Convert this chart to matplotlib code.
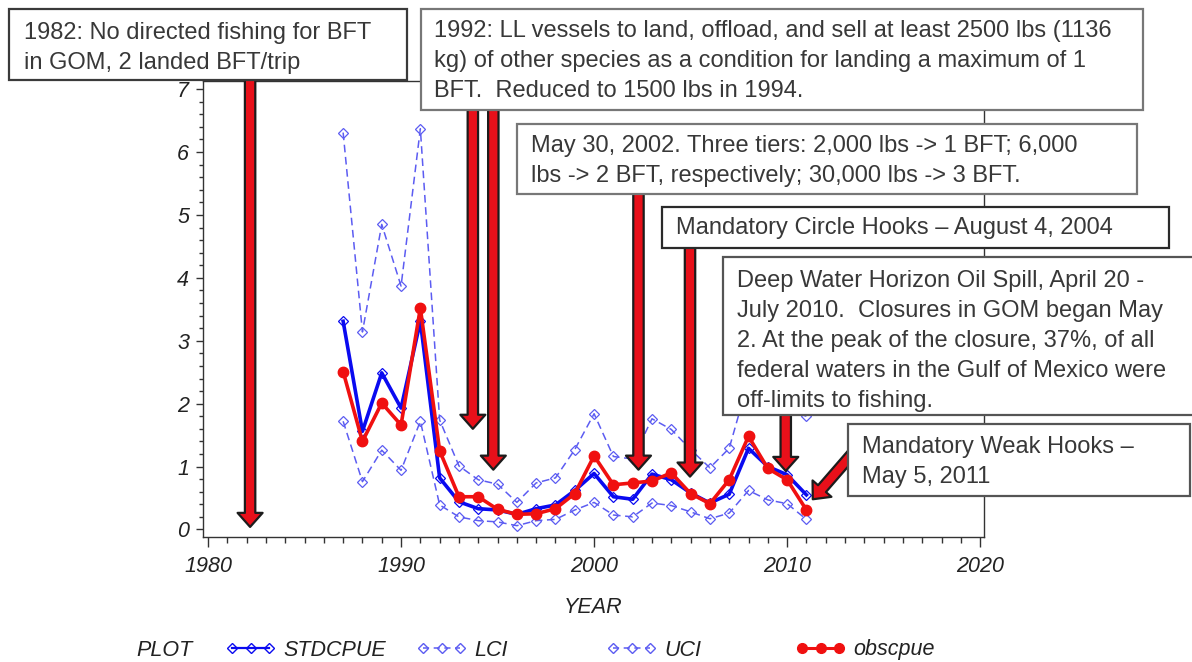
import matplotlib
matplotlib.use('Agg')
import matplotlib.pyplot as plt
from matplotlib.patches import Rectangle, FancyArrowPatch
from matplotlib.lines import Line2D

# --- datos ---
years = list(range(1987, 2012))
stdcpue = [3.31, 1.56, 2.49, 1.93, 3.31, 0.82, 0.44, 0.33, 0.31, 0.24, 0.33, 0.39, 0.62,
           0.89, 0.52, 0.48, 0.88, 0.79, 0.58, 0.42, 0.56, 1.29, 1.00, 0.87, 0.55]
lci = [1.72, 0.76, 1.26, 0.94, 1.72, 0.39, 0.20, 0.14, 0.12, 0.06, 0.14, 0.16, 0.31,
       0.43, 0.23, 0.20, 0.42, 0.38, 0.28, 0.17, 0.26, 0.62, 0.47, 0.41, 0.16]
uci = [6.31, 3.14, 4.85, 3.87, 6.37, 1.74, 1.01, 0.79, 0.72, 0.43, 0.74, 0.82, 1.27,
       1.84, 1.16, 1.12, 1.76, 1.59, 1.27, 0.98, 1.29, 2.37, 2.10, 1.90, 1.80]
obscpue = [2.51, 1.40, 2.01, 1.66, 3.52, 1.25, 0.52, 0.52, 0.32, 0.24, 0.25, 0.33, 0.57,
           1.17, 0.71, 0.74, 0.77, 0.90, 0.57, 0.41, 0.79, 1.48, 0.97, 0.79, 0.31]
series_labels = ['STDCPUE', 'LCI', 'UCI', 'obscpue']

# notas de regulacion: (texto, caja en px [izq, arriba, der, abajo], x texto, y centro texto, borde)
notes = [
    ("1982: No directed fishing for BFT\nin GOM, 2 landed BFT/trip",
     (9, 9, 407, 80), 24, 48, '#3a3a3a'),
    ("1992: LL vessels to land, offload, and sell at least 2500 lbs (1136\n"
     "kg) of other species as a condition for landing a maximum of 1\n"
     "BFT.  Reduced to 1500 lbs in 1994.",
     (421, 9, 1143, 110), 434, 61, '#777777'),
    ("May 30, 2002. Three tiers: 2,000 lbs -> 1 BFT; 6,000\n"
     "lbs -> 2 BFT, respectively; 30,000 lbs -> 3 BFT.",
     (517, 124, 1137, 194), 531, 161, '#777777'),
    ("Mandatory Circle Hooks \u2013 August 4, 2004",
     (662, 207, 1169, 248), 676, 228, '#2a2a2a'),
    ("Deep Water Horizon Oil Spill, April 20 -\n"
     "July 2010.  Closures in GOM began May\n"
     "2. At the peak of the closure, 37%, of all\n"
     "federal waters in the Gulf of Mexico were\n"
     "off-limits to fishing.",
     (723, 257, 1205, 415), 737, 341, '#555555'),
    ("Mandatory Weak Hooks \u2013\nMay 5, 2011",
     (848, 424, 1190, 496), 862, 462, '#555555'),
]

# flechas (x punta, y punta, x cola, y cola) en unidades de datos
arrows = [
    (1982.18, 0.04, 1982.18, 7.2),
    (1993.72, 1.60, 1993.72, 7.0),
    (1994.78, 0.95, 1994.78, 7.0),
    (2002.30, 0.95, 2002.30, 5.5),
    (2004.97, 0.84, 2004.97, 4.6),
    (2009.93, 0.93, 2009.93, 2.0),
    (2011.33, 0.48, 2014.30, 1.53),
]

W, H = 1192, 662
fig = plt.figure(figsize=(W / 100, H / 100), dpi=100)
ax = fig.add_axes([203 / W, 1 - 537 / H, (984 - 203) / W, (537 - 81) / H])

tick_font = dict(family=['Liberation Sans', 'DejaVu Sans'], style='italic', size=15.5)

blue = '#0a0af0'
light_blue = '#5c5cf2'
red = '#f01010'

ax.plot(years, uci, color=light_blue, lw=1.1, ls=(0, (5, 3)), marker='D', ms=5,
        mfc='none', mec=light_blue, mew=0.9, zorder=2)
ax.plot(years, lci, color=light_blue, lw=1.1, ls=(0, (5, 3)), marker='D', ms=5,
        mfc='none', mec=light_blue, mew=0.9, zorder=2)
ax.plot(years, stdcpue, color=blue, lw=2.6, marker='D', ms=5, mfc='none',
        mec=blue, mew=0.9, zorder=3)
ax.plot(years, obscpue, color=red, lw=2.6, marker='o', ms=7.5, mfc=red, mec=red, zorder=4)

ax.set_xlim(1979.74, 2020.2)
ax.set_ylim(-0.12, 7.13)
ax.set_xticks(range(1980, 2021, 10))
ax.set_xticks(range(1980, 2021), minor=True)
ax.set_yticks(range(0, 8))
ax.set_yticks([i / 5 for i in range(0, 36)], minor=True)
for lab in ax.get_xticklabels() + ax.get_yticklabels():
    lab.set_fontproperties(matplotlib.font_manager.FontProperties(**tick_font))
ax.tick_params(axis='x', which='major', length=7, width=1, pad=7, color='#333333', labelcolor='#222222')
ax.tick_params(axis='x', which='minor', length=4, width=1, color='#333333')
ax.tick_params(axis='y', which='major', length=5, width=1, pad=5, color='#333333', labelcolor='#222222')
ax.tick_params(axis='y', which='minor', length=3, width=1, color='#333333')
for s in ax.spines.values():
    s.set_color('#333333')
    s.set_linewidth(1.0)
ax.set_xlabel('YEAR', fontdict=tick_font, color='#222222', labelpad=14)

for xt, yt, xs, ys in arrows:
    ar = FancyArrowPatch((xs, ys), (xt, yt), transform=ax.transData,
                         arrowstyle='simple,head_width=2.4,head_length=1.35,tail_width=1.0',
                         mutation_scale=7.5, fc='#e8101a', ec='#1c1c1c', lw=1.6,
                         shrinkA=0, shrinkB=0, clip_on=False, zorder=6)
    ax.add_patch(ar)

for text, (l, t, r, b), tx, ty, ec in notes:
    fig.add_artist(Rectangle((l / W, 1 - b / H), (r - l) / W, (b - t) / H,
                             transform=fig.transFigure, fc='white', ec=ec, lw=1.6, zorder=10))
    fig.text(tx / W, 1 - ty / H, text, ha='left', va='center', fontsize=17,
             family='Liberation Sans', color='#383838', linespacing=1.47, zorder=11)

# leyenda inferior
fig.text(136 / W, 1 - 650 / H, 'PLOT', ha='left', va='center', color='#222222',
         family=tick_font['family'], style='italic', size=15.5)
handles = [
    Line2D([], [], color=blue, lw=1.6, marker='D', ms=5, mfc='none', mec=blue),
    Line2D([], [], color=light_blue, lw=1.1, ls=(0, (4, 3)), marker='D', ms=5, mfc='none', mec=light_blue),
    Line2D([], [], color=light_blue, lw=1.1, ls=(0, (4, 3)), marker='D', ms=5, mfc='none', mec=light_blue),
    Line2D([], [], color=red, lw=2.2, marker='o', ms=7, mfc=red, mec=red),
]
legend_x = [226, 417, 607, 796]
for h, lab, lx in zip(handles, series_labels, legend_x):
    lg = fig.legend([h], [lab], loc='center left', bbox_to_anchor=(lx / W, 1 - 650 / H),
                    frameon=False, handlelength=2.3, handletextpad=0.35, borderpad=0,
                    borderaxespad=0, numpoints=3,
                    prop=matplotlib.font_manager.FontProperties(**tick_font))
    for txt in lg.get_texts():
        txt.set_color('#222222')

fig.savefig('out.png', dpi=100, facecolor='white')
